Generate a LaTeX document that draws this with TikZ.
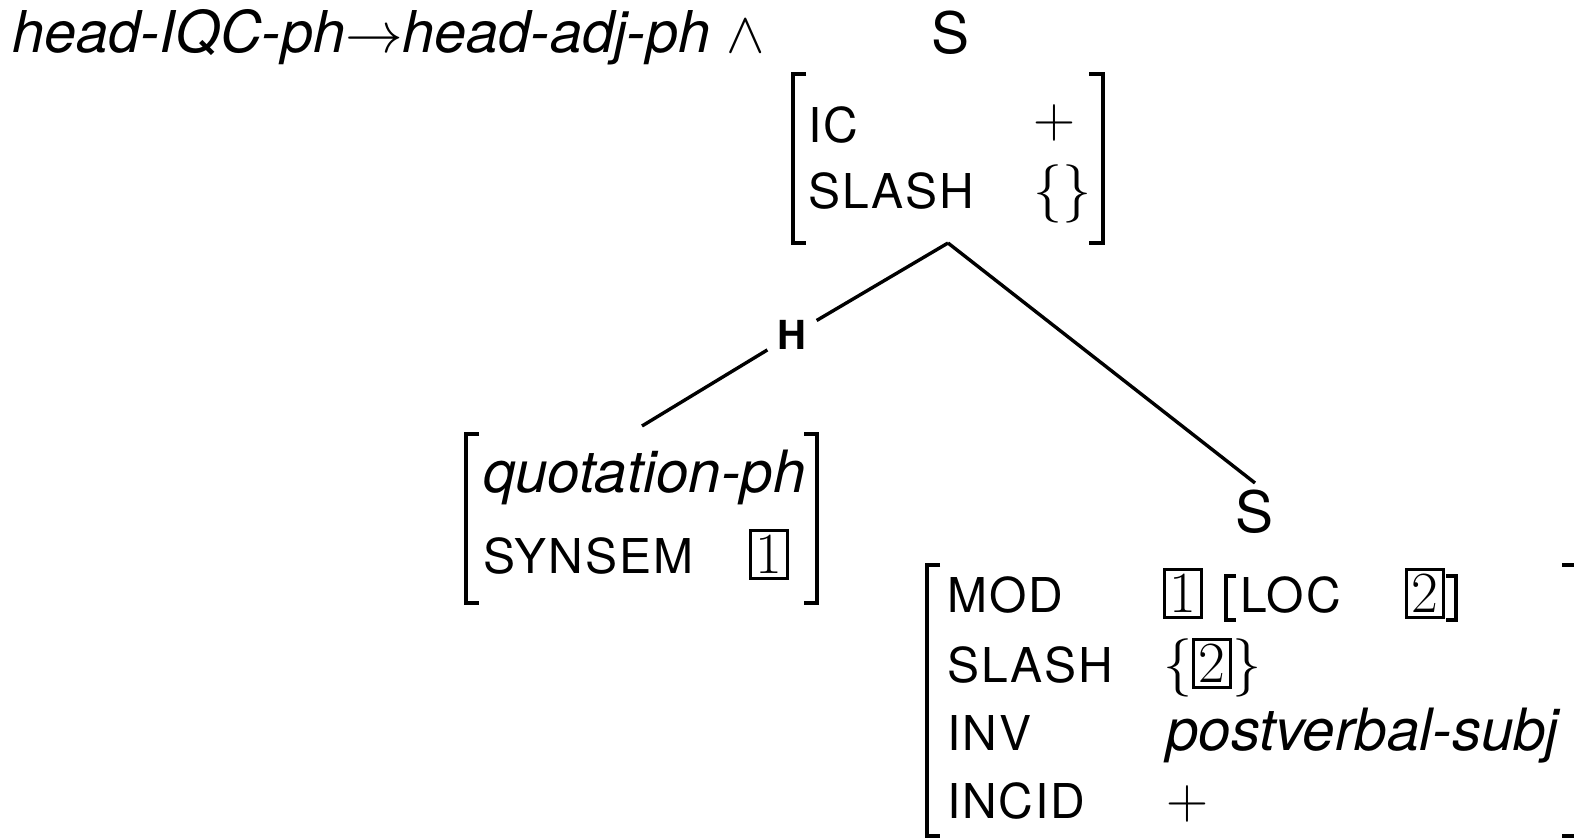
\RequirePackage{fix-cm}
\documentclass[tikz,border=0pt]{standalone}
\usepackage{fontspec}
\setmainfont{TeX Gyre Heros}
\newfontfamily\attrfont[LetterSpace=4]{TeX Gyre Heros}
% boxed structure-sharing tags
\newcommand\tagnum[1]{{\setlength\fboxrule{3pt}\setlength\fboxsep{3.5pt}\fbox{$#1$}}}
\begin{document}
\begin{tikzpicture}[x=1pt,y=-1pt,
  txt/.style={inner sep=0pt, anchor=base west, font=\fontsize{58.3}{70}\selectfont},
  headline/.style={inner sep=0pt, anchor=base west, font=\fontsize{57.6}{70}\selectfont},
  attr/.style={inner sep=0pt, anchor=base west, font=\fontsize{48}{58}\attrfont},
  cat/.style={inner sep=0pt, anchor=base, font=\fontsize{57}{68}\selectfont},
  brk/.style={line width=3.4pt},
  branch/.style={line width=3.4pt},
  headmark/.style={inner sep=10pt, font=\fontsize{40}{48}\selectfont\bfseries}]
\useasboundingbox (0,0) rectangle (1574,838);
\clip (0,0) rectangle (1574,838);

% constraint heading
\node[headline] (title) at (12,52) {\itshape head-IQC-ph$\rightarrow$head-adj-ph $\wedge$};

% mother
\node[cat] (s1) at (950,53) {S};
\draw[brk] (806,74) -| (793,243) -- (806,243);
\draw[brk] (1089,74) -| (1103,243) -- (1089,243);
\node[attr] (ic) at (808,142) {IC};
\node[attr] (sl1) at (808,208) {SLASH};
\node[txt] (icv) at (1033,137) {$+$};
\node[txt] (slv1) at (1033,208) {$\{\}$};

% branches
\coordinate (apex) at (948,243);
\coordinate (qtop) at (642,426);
\coordinate (stop) at (1255,483);
\node[headmark] (h) at (792,335) {H};
\draw[branch] (apex) -- (h);
\draw[branch] (h) -- (qtop);
\draw[branch] (apex) -- (stop);

% head daughter
\draw[brk] (479,434) -| (466,603) -- (479,603);
\draw[brk] (804,434) -| (817,603) -- (804,603);
\node[txt] (qph) at (483,492) {\itshape quotation-ph};
\node[attr] (synsem) at (483,573) {SYNSEM};
\node[txt] (t1a) at (749,573) {\tagnum{1}};

% adjunct daughter
\node[cat] (s2) at (1254,532) {S};
\draw[brk] (940,565) -| (927,836) -- (940,836);
\draw[brk] (1562,565) -| (1576,836) -- (1562,836);
\node[attr] (mod) at (947,612) {MOD};
\node[attr] (sl2) at (947,682) {SLASH};
\node[attr] (inv) at (947,750) {INV};
\node[attr] (incid) at (947,818) {INCID};
\node[txt] (t1b) at (1163,612) {\tagnum{1}};
\draw[brk] (1236,576) -| (1226,620) -- (1236,620);
\node[attr] (loc) at (1240,612) {LOC};
\node[txt] (t2a) at (1405,612) {\tagnum{2}};
\draw[brk] (1446,576) -| (1456,620) -- (1446,620);
\node[txt] (slv2) at (1163,682) {$\{$\tagnum{2}$\}$};
\node[txt] (invv) at (1166,750) {\itshape postverbal-subj};
\node[txt] (incv) at (1166,818) {$+$};
\end{tikzpicture}
\end{document}
